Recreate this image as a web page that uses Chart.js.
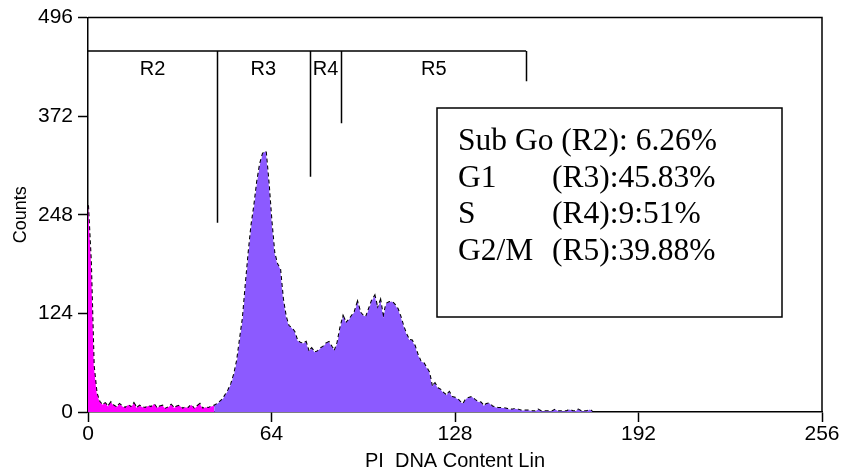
<!DOCTYPE html>
<html>
<head>
<meta charset="utf-8">
<script src="https://cdn.jsdelivr.net/npm/chart.js@4/dist/chart.umd.min.js"></script>
<style>
    html, body { margin: 0; padding: 0; background: #fff; }
    #wrap { width: 842px; height: 473px; position: relative; }
</style>
</head>
<body>
<div id="wrap"><canvas id="dnaHistogram"></canvas></div>
<script>
// PI DNA content histogram, counts per channel (channel = index)
const counts = [
    260, 190, 58, 24, 13, 9, 11, 7, 12, 8,
    6, 10, 7, 5, 9, 6, 11, 5, 8, 6,
    5, 8, 6, 10, 5, 7, 8, 4, 6, 9,
    5, 7, 8, 4, 6, 5, 9, 4, 7, 10,
    4, 6, 5, 7, 8, 10, 13, 16, 22, 28,
    36, 48, 65, 92, 118, 160, 200, 235, 260, 290,
    312, 325, 328, 288, 240, 200, 186, 180, 142, 120,
    108, 106, 101, 90, 87, 86, 88, 76, 80, 75,
    76, 80, 82, 86, 88, 82, 77, 87, 106, 120,
    112, 116, 121, 126, 138, 125, 121, 120, 130, 140,
    146, 130, 140, 118, 136, 138, 139, 135, 130, 120,
    108, 98, 91, 90, 83, 72, 64, 62, 56, 50,
    32, 36, 30, 28, 24, 21, 25, 19, 18, 16,
    12, 11, 17, 18, 19, 15, 13, 12, 8, 10,
    11, 7, 6, 5, 5, 5, 4, 3, 3, 4,
    3, 2, 2, 2, 2, 1, 1, 3, 1, 1,
    1, 1, 1, 3, 1, 1, 1, 1, 3, 1,
    1, 3, 1, 1, 1, 3, 0
];
const subG0End = 44;            // last channel drawn in magenta

const xTicks = [0, 64, 128, 192, 256];
const yTicks = [0, 124, 248, 372, 496];

// region markers
const regionNames = ['R2', 'R3', 'R4', 'R5'];
const regionStart = [0, 45, 77.3, 88.4];
const regionEnd = [45, 77.3, 88.4, 152.8];
const regionDrop = [238, 296, 363, 416];   // where each right-hand marker line stops
const regionBarLevel = 454;

// stats box
const statLabels = ['Sub Go (R2): 6.26%', 'G1', 'S', 'G2/M'];
const statValues = ['', '(R3):45.83%', '(R4):9:51%', '(R5):39.88%'];

const allPoints = counts.map((c, i) => ({ x: i, y: c }));
const magentaPoints = allPoints.slice(0, subG0End + 1);
const purplePoints = allPoints.slice(subG0End);

const sans = "'Liberation Sans', Arial, sans-serif";
const serif = "'Liberation Serif', 'Times New Roman', serif";

const overlay = {
    id: 'overlay',
    afterDraw(chart) {
        const { ctx, chartArea: a, scales: { x, y } } = chart;
        ctx.save();
        ctx.strokeStyle = '#000';
        ctx.lineWidth = 1.5;
        // frame top + right
        ctx.beginPath();
        ctx.moveTo(a.left, a.top);
        ctx.lineTo(a.right, a.top);
        ctx.lineTo(a.right, a.bottom);
        ctx.stroke();

        // region brackets
        const barY = y.getPixelForValue(regionBarLevel);
        ctx.beginPath();
        ctx.moveTo(x.getPixelForValue(regionStart[0]), barY);
        ctx.lineTo(x.getPixelForValue(regionEnd[regionEnd.length - 1]), barY);
        regionEnd.forEach((e, i) => {
            const px = Math.round(x.getPixelForValue(e)) + 0.5;
            ctx.moveTo(px, barY);
            ctx.lineTo(px, y.getPixelForValue(regionDrop[i]));
        });
        ctx.stroke();
        ctx.fillStyle = '#000';
        ctx.font = '20px ' + sans;
        ctx.textAlign = 'center';
        ctx.textBaseline = 'alphabetic';
        regionNames.forEach((n, i) => {
            const mid = (regionStart[i] + regionEnd[i]) / 2;
            ctx.fillText(n, x.getPixelForValue(mid), barY + 24);
        });

        // stats box
        ctx.lineWidth = 1.5;
        ctx.strokeRect(437, 108, 345, 209);
        ctx.font = '31.5px ' + serif;
        ctx.textAlign = 'left';
        statLabels.forEach((t, i) => {
            const by = 150 + i * 36.7;
            ctx.fillText(t, 458, by);
            if (statValues[i]) ctx.fillText(statValues[i], 552, by);
        });
        ctx.restore();
    }
};

new Chart(document.getElementById('dnaHistogram'), {
    type: 'line',
    data: {
        datasets: [{
            data: magentaPoints,
            backgroundColor: '#ff00ff',
            borderWidth: 0,
            fill: 'origin',
            pointRadius: 0
        }, {
            data: purplePoints,
            backgroundColor: '#8c5aff',
            borderWidth: 0,
            fill: 'origin',
            pointRadius: 0
        }, {
            data: allPoints,
            borderColor: '#000',
            borderWidth: 2,
            borderDash: [4, 3],
            fill: false,
            pointRadius: 0
        }]
    },
    options: {
        responsive: true,
        maintainAspectRatio: false,
        animation: false,
        layout: { padding: { top: 15, right: 20, left: 0, bottom: 0 } },
        elements: { line: { tension: 0 } },
        plugins: {
            legend: { display: false },
            tooltip: { enabled: false }
        },
        scales: {
            x: {
                type: 'linear',
                min: 0,
                max: 256,
                afterBuildTicks: s => { s.ticks = xTicks.map(v => ({ value: v })); },
                afterFit: s => { s.height = 61; },
                grid: { drawOnChartArea: false, tickLength: 10, tickColor: '#000', tickWidth: 1.5 },
                border: { color: '#000', width: 1.5 },
                ticks: { color: '#000', font: { family: sans, size: 21 }, padding: 0, maxRotation: 0 },
                title: {
                    display: true,
                    text: 'PI  DNA Content Lin',
                    color: '#000',
                    font: { family: sans, size: 20 },
                    padding: { top: 0, bottom: 0 }
                }
            },
            y: {
                min: 0,
                max: 496,
                afterBuildTicks: s => { s.ticks = yTicks.map(v => ({ value: v })); },
                afterFit: s => { s.width = 88; },
                grid: { drawOnChartArea: false, tickLength: 10, tickColor: '#000', tickWidth: 1.5 },
                border: { color: '#000', width: 1.5 },
                ticks: { color: '#000', font: { family: sans, size: 21 }, padding: 5 },
                title: {
                    display: true,
                    text: 'Counts',
                    color: '#000',
                    font: { family: sans, size: 18 },
                    padding: { top: 10, bottom: 0 }
                }
            }
        }
    },
    plugins: [overlay]
});
</script>
</body>
</html>
